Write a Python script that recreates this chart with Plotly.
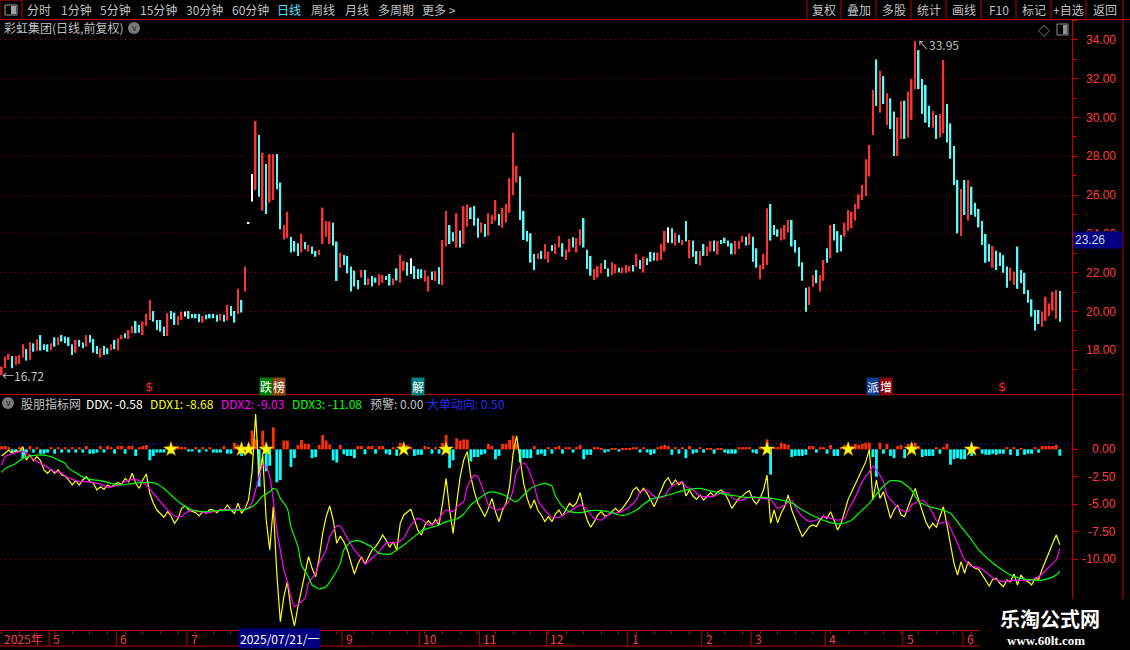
import plotly.graph_objects as go

# daily bars, index 0 = first visible day (2025-04)
HIGH = [
    17.16, 17.68, 17.81, 17.71, 17.71, 17.76, 18.31, 18.07, 18.42, 18.36,
    18.57, 18.79, 18.31, 18.31, 18.36, 18.67, 18.67, 18.79, 18.71, 18.67,
    18.31, 18.54, 18.54, 18.40, 18.79, 18.79, 18.59, 18.23, 18.11, 18.23,
    18.11, 18.31, 18.54, 18.62, 18.79, 18.88, 19.05, 19.26, 19.51, 19.31,
    19.48, 19.88, 20.60, 20.03, 19.57, 19.57, 19.22, 19.91, 20.03, 19.95,
    19.77, 20.00, 20.00, 20.03, 19.88, 19.88, 19.88, 19.77, 19.83, 19.88,
    19.88, 19.83, 19.88, 19.83, 20.34, 20.29, 20.03, 21.17, 20.60, 22.32,
    24.60, 27.09, 29.82, 29.10, 28.19, 27.61, 28.12, 28.12, 28.12, 26.65,
    24.46, 25.15, 23.86, 23.64, 23.52, 24.00, 23.59, 23.43, 23.35, 23.12,
    23.18, 25.36, 24.67, 24.64, 24.58, 23.61, 23.04, 22.92, 22.87, 22.32,
    22.11, 21.63, 22.14, 22.14, 21.72, 21.83, 21.75, 21.94, 21.89, 21.83,
    21.94, 21.72, 22.23, 22.92, 22.61, 22.54, 22.75, 22.35, 22.20, 22.18,
    22.14, 21.83, 22.06, 22.09, 22.28, 23.69, 25.19, 24.46, 24.09, 25.07,
    24.16, 25.44, 25.53, 25.37, 25.44, 24.81, 24.60, 24.52, 25.07, 24.98,
    25.75, 25.03, 25.36, 25.55, 26.87, 29.22, 27.51, 26.96, 25.19, 24.16,
    24.03, 22.97, 23.00, 23.12, 23.48, 23.09, 23.43, 23.48, 23.90, 23.52,
    23.18, 23.74, 23.83, 23.78, 24.26, 24.82, 23.18, 22.87, 22.20, 22.35,
    22.49, 22.66, 22.23, 22.54, 22.44, 22.26, 22.28, 22.40, 22.35, 22.40,
    22.97, 22.66, 22.83, 22.75, 23.07, 23.04, 23.04, 23.48, 24.16, 24.34,
    24.29, 24.07, 23.95, 23.69, 24.67, 23.69, 23.66, 23.12, 23.12, 23.48,
    23.35, 23.64, 23.66, 23.64, 23.69, 23.81, 23.66, 23.52, 23.64, 23.64,
    23.90, 23.86, 24.03, 23.86, 23.26, 22.40, 22.97, 25.32, 25.55, 24.46,
    24.24, 24.29, 24.46, 24.72, 24.72, 23.69, 23.31, 22.54, 21.23, 21.28,
    21.88, 22.14, 21.88, 22.66, 23.26, 24.46, 24.51, 24.15, 23.95, 24.58,
    25.24, 25.15, 25.55, 26.04, 26.53, 27.85, 28.59, 31.42, 33.00, 32.42,
    32.14, 31.25, 30.99, 30.31, 30.01, 30.86, 30.87, 31.34, 31.99, 33.95,
    33.48, 31.99, 31.68, 30.61, 30.34, 30.13, 30.18, 32.97, 30.70, 29.70,
    28.54, 26.78, 26.32, 26.78, 26.78, 26.44, 25.61, 25.29, 24.67, 24.00,
    23.48, 23.38, 23.14, 23.04, 22.91, 22.32, 22.26, 22.06, 23.35, 22.14,
    22.00, 21.11, 20.63, 20.08, 20.08, 20.00, 20.77, 20.42, 21.02, 21.11,
    21.06,
]
LOW = [
    16.72, 17.08, 17.51, 17.08, 17.25, 17.30, 17.63, 17.47, 17.51, 17.93,
    17.99, 17.99, 18.02, 17.93, 18.02, 18.19, 18.28, 18.45, 18.36, 18.23,
    17.76, 17.88, 18.19, 18.11, 18.19, 18.40, 17.88, 17.81, 17.63, 17.76,
    17.80, 17.99, 18.06, 17.99, 18.57, 18.62, 18.59, 18.88, 18.88, 18.91,
    18.79, 19.26, 19.57, 19.48, 19.05, 18.97, 18.74, 18.74, 19.60, 19.31,
    19.31, 19.57, 19.74, 19.62, 19.65, 19.65, 19.45, 19.43, 19.60, 19.65,
    19.65, 19.48, 19.53, 19.48, 19.53, 19.77, 19.43, 19.88, 19.95, 21.03,
    24.52, 25.67, 26.27, 25.92, 25.20, 25.03, 25.62, 25.75, 26.30, 24.24,
    23.72, 23.78, 23.04, 23.09, 22.87, 23.04, 23.21, 23.09, 22.97, 22.83,
    22.92, 23.48, 23.86, 23.48, 23.40, 21.58, 22.26, 22.40, 21.97, 21.03,
    21.29, 21.15, 21.75, 21.37, 21.37, 21.29, 21.49, 21.34, 21.49, 21.63,
    21.34, 21.37, 21.60, 21.49, 22.11, 21.85, 21.94, 21.68, 21.68, 21.72,
    21.54, 21.03, 21.63, 21.58, 21.42, 21.37, 23.35, 23.48, 23.61, 23.30,
    23.30, 23.48, 24.38, 24.77, 24.43, 23.81, 24.07, 23.86, 23.91, 24.52,
    24.69, 24.43, 24.33, 24.58, 25.10, 25.99, 26.65, 24.72, 23.69, 23.61,
    22.52, 22.14, 22.71, 22.71, 22.71, 22.52, 23.12, 22.97, 23.30, 22.83,
    22.66, 23.06, 23.30, 23.04, 23.40, 23.30, 22.20, 21.85, 21.63, 21.75,
    21.97, 22.20, 21.80, 21.89, 21.97, 22.01, 21.97, 21.97, 22.06, 22.06,
    22.31, 22.20, 22.01, 22.40, 22.57, 22.63, 22.61, 22.66, 23.09, 23.55,
    23.52, 23.40, 23.55, 23.43, 23.61, 22.75, 22.83, 22.45, 22.37, 22.87,
    22.87, 23.09, 23.09, 22.95, 23.48, 23.52, 23.35, 22.95, 22.95, 23.23,
    23.57, 23.40, 23.43, 22.57, 22.26, 21.66, 22.18, 22.40, 23.66, 23.95,
    23.86, 23.66, 23.72, 24.07, 23.35, 23.04, 22.32, 21.59, 19.99, 20.34,
    21.28, 21.46, 21.03, 21.59, 22.52, 22.75, 23.66, 23.04, 23.09, 23.86,
    24.17, 24.29, 24.69, 25.29, 25.75, 25.96, 26.96, 29.10, 30.60, 30.25,
    30.70, 29.62, 29.41, 28.02, 28.02, 28.90, 28.90, 28.97, 29.88, 31.46,
    31.47, 30.19, 29.74, 29.50, 29.48, 28.90, 28.97, 29.19, 28.71, 27.88,
    26.52, 24.03, 23.90, 24.98, 24.69, 24.98, 24.89, 24.34, 23.43, 22.52,
    22.57, 22.26, 22.14, 22.35, 22.00, 21.23, 21.59, 21.37, 21.17, 21.46,
    20.91, 20.46, 19.74, 19.02, 19.36, 19.22, 19.52, 19.77, 20.05, 19.62,
    19.48,
]
# r = up day, c = down day, w = flat
DIRS = ''.join([
    'rrrcrrrcrc', 'rcccrcrccc', 'crccrcccrc', 'crcrrcrrcc', 'rrrccccrcc',
    'rrwccccrcc', 'ccrcrccrcr', 'wwrcrcrrcc', 'rrcccrcrcc', 'rrrrccrccc',
    'ccrcrccrrc', 'crcrrcwccc', 'rrcrcrrccr', 'crrcccrcrr', 'rcrrrrrccc',
    'ccrcrrcrrc', 'rrcrrcccrr', 'rccrrcrrrc', 'rcrcccrrrw', 'crcrcrccrc',
    'rrcrccccrr', 'rcrccrrrcc', 'crrrcccccr', 'rcrrcrcccr', 'rrrrrrrrcr',
    'crccrrcrrr', 'ccccrcrrcc', 'ccrcrccccc', 'crccccrrcc', 'cccccrrrrr',
    'c',
])

DDX = [
    0.3, 0.3, 0.2, -0.3, -0.3, 0.2, -0.8, -0.3, 0.3, -0.3,
    0.2, -0.4, -0.4, -0.3, 0.2, -0.4, 0.2, -0.3, 0.2, -0.3,
    0.2, -0.3, 0.2, -0.3, 0.3, -0.4, -0.4, -0.3, 0.3, -0.3,
    0.3, 0.2, -0.4, 0.3, 0.3, -0.4, 0.3, 0.3, -0.6, 0.2,
    0.3, 0.4, -1.0, -0.6, -0.3, -0.3, -0.3, 0.3, -0.4, 0.3,
    0.3, 0.2, 0.2, -0.2, -0.2, 0.2, -0.3, 0.2, -0.2, 0.2,
    -0.3, -0.3, -0.3, 0.3, -0.4, -0.4, 0.6, 0.4, -0.6, 0.2,
    0.3, 1.7, 0.9, -3.4, 1.7, -2.0, -1.5, 2.0, -3.0, -2.8,
    0.8, 0.8, -1.6, -0.8, 0.4, 0.85, 0.5, 0.5, -0.8, -0.7,
    0.4, 1.3, 0.8, 0.45, -1.0, -1.2, 0.4, -0.45, -0.6, -0.6,
    -0.8, 0.3, 0.3, -0.45, 0.3, 0.3, -0.4, 0.3, 0.3, -0.4,
    -0.5, 0.2, -0.6, 0.6, 0.4, 0.4, 0.2, -0.6, -0.5, -0.5,
    0.3, 0.2, -0.4, 0.2, -0.4, 0.6, 1.3, -1.7, -1.0, 1.0,
    0.8, 0.9, 0.9, -1.1, -0.7, -0.7, -0.5, -0.4, 0.5, 0.3,
    -0.9, -0.6, 0.5, 0.5, 0.85, 1.25, 0.5, -1.2, -0.8, -0.8,
    -0.8, 0.3, -0.5, -0.4, -0.6, 0.2, -0.4, 0.2, 0.3, -0.4,
    0.2, 0.2, -0.3, 0.2, 0.4, -0.9, -0.5, -0.5, 0.2, 0.2,
    0.1, -0.3, -0.2, 0.1, 0.1, -0.2, 0.1, 0.1, 0.1, 0.2,
    0.2, -0.3, 0.2, -0.3, -0.5, -0.4, 0.2, 0.3, 0.4, 0.3,
    -0.5, 0.2, -0.4, 0.2, -0.8, 0.3, -0.4, -0.3, 0.2, -0.3,
    0.1, 0.1, -0.4, 0.1, 0.1, -0.3, -0.4, -0.4, -0.4, 0.2,
    0.2, 0.2, 0.2, -0.3, -0.4, 0.2, 0.2, 0.9, -2.3, 0.2,
    0.2, 0.6, 0.5, 0.4, -0.7, -0.6, -0.6, -0.6, -0.5, 0.3,
    0.3, -0.3, 0.2, 0.2, -0.4, 0.4, -0.6, -0.6, 0.2, 0.4,
    0.5, 0.3, 0.5, 0.4, 0.5, 0.6, 0.6, -0.7, -2.5, 0.6,
    -0.4, 0.5, -0.6, -0.8, 0.3, 0.4, -0.8, 0.5, 0.5, 0.6,
    0.3, -0.7, -0.6, -0.6, -0.6, 0.2, -0.4, 0.2, 0.5, -1.4,
    -0.9, -0.8, -0.9, -0.9, 0.2, -0.6, 0.3, 0.2, -0.4, -0.5,
    -0.5, -0.4, -0.5, -0.4, -0.4, 0.2, -0.5, 0.2, -0.6, 0.1,
    -0.5, -0.4, -0.4, 0.2, -0.3, 0.3, 0.3, 0.3, 0.3, 0.4,
    -0.58,
]
DDX1 = [
    -0.61, -0.30, -0.06, -0.37, -0.12, -0.21, 0.24, -0.97, -0.52, -1.03,
    -0.67, -1.03, -1.88, -2.18, -1.82, -2.18, -1.88, -2.34, -2.43, -2.79,
    -3.24, -2.85, -3.24, -2.79, -2.49, -2.94, -3.09, -3.70, -3.40, -3.64,
    -3.24, -3.40, -3.24, -3.03, -3.15, -2.64, -2.94, -2.18, -3.09, -3.55,
    -2.79, -2.24, -4.00, -4.91, -5.52, -5.82, -6.18, -5.67, -6.06, -6.73,
    -6.28, -5.37, -5.15, -5.52, -5.67, -5.76, -6.06, -5.67, -5.82, -5.46,
    -5.52, -5.76, -5.46, -5.52, -5.06, -5.52, -5.82, -4.91, -5.82, -5.37,
    -4.60, -2.03, 3.21, -2.64, -0.52, -6.43, -9.15, -5.21, -11.27, -15.67,
    -13.40, -12.03, -14.61, -16.06, -14.31, -12.79, -11.27, -9.76, -10.82, -11.58,
    -9.91, -7.64, -6.12, -5.15, -6.43, -8.55, -7.88, -8.40, -9.15, -10.21,
    -11.34, -10.43, -9.76, -10.43, -9.76, -9.15, -8.85, -8.40, -7.79, -8.25,
    -8.91, -8.40, -9.15, -6.73, -5.97, -5.67, -5.46, -6.43, -7.34, -7.79,
    -6.88, -6.49, -6.88, -6.37, -6.88, -4.91, -2.64, -5.52, -7.64, -4.91,
    -2.49, -0.97, -0.21, -2.49, -3.85, -4.91, -5.52, -6.12, -5.37, -4.46,
    -5.67, -6.58, -5.52, -4.91, -3.40, -0.37, 1.21, -0.97, -3.09, -4.46,
    -5.37, -4.61, -5.52, -5.97, -6.58, -6.12, -6.58, -5.88, -5.52, -6.06,
    -5.52, -4.91, -5.21, -4.85, -3.94, -5.37, -6.43, -7.09, -6.58, -5.97,
    -5.67, -6.06, -5.97, -5.67, -5.37, -5.67, -5.37, -4.91, -4.46, -3.70,
    -3.46, -3.94, -3.55, -4.00, -4.61, -5.21, -4.46, -3.70, -2.94, -2.58,
    -3.24, -2.79, -3.24, -2.94, -4.25, -3.70, -4.25, -4.55, -4.15, -4.61,
    -4.25, -3.94, -4.25, -3.85, -3.70, -4.00, -4.61, -5.37, -4.91, -4.46,
    -4.25, -3.94, -3.76, -4.61, -4.97, -4.46, -3.70, -2.34, -6.73, -5.52,
    -6.67, -5.82, -5.21, -4.15, -5.52, -6.43, -7.18, -7.94, -7.49, -7.03,
    -6.88, -7.03, -6.43, -6.06, -6.28, -5.67, -6.43, -7.34, -6.73, -5.52,
    -4.55, -3.85, -3.15, -2.49, -1.73, -1.12, 0.00, -4.61, -2.79, -4.46,
    -3.85, -5.21, -6.28, -5.52, -5.06, -5.97, -6.12, -5.21, -4.31, -3.55,
    -4.61, -5.67, -6.58, -7.18, -6.73, -7.09, -6.12, -5.21, -6.88, -8.70,
    -10.37, -11.43, -10.21, -11.27, -10.21, -10.61, -10.82, -10.91, -11.43, -11.88,
    -12.43, -11.82, -11.73, -12.18, -12.49, -11.88, -12.03, -11.34, -12.34, -11.43,
    -11.88, -12.03, -12.34, -11.73, -11.82, -10.91, -10.06, -9.30, -8.55, -7.79,
    -8.68,
]
# smoother lines, read at (day index, value)
DDX2_PTS = [
    (0, -1.43), (1, -0.67), (4, -0.28), (6, -0.21), (7, -0.37), (9, -0.91), (11, -1.28),
    (13, -1.64), (15, -2.03), (17, -2.12), (18, -2.43), (20, -2.73), (22, -2.94), (24, -2.94),
    (26, -3.03), (28, -3.15), (30, -3.46), (32, -3.34), (34, -3.15), (35, -2.94), (37, -2.73),
    (39, -2.85), (41, -3.24), (43, -4.00), (45, -4.76), (47, -5.52), (49, -6.06), (51, -6.12),
    (52, -5.82), (54, -5.52), (56, -5.67), (58, -5.76), (60, -5.67), (62, -5.52), (64, -5.46),
    (66, -5.46), (68, -5.46), (70, -5.31), (71, -4.76), (72, -3.70), (73, -2.49), (74, -1.43),
    (75, -1.58), (76, -2.49), (77, -4.60), (78, -7.34), (79, -9.15), (80, -10.97), (81, -12.03),
    (82, -13.40), (83, -14.31), (85, -13.85), (86, -13.55), (87, -12.18), (89, -11.28),
    (90, -10.37), (92, -9.15), (93, -7.94), (95, -6.97), (96, -6.97), (98, -8.09), (100, -9.15),
    (102, -9.91), (103, -10.43), (105, -9.91), (107, -9.30), (109, -8.55), (111, -8.49),
    (112, -8.49), (114, -8.09), (116, -6.88), (118, -6.28), (120, -6.58), (121, -6.88),
    (123, -6.73), (125, -5.82), (126, -5.52), (128, -5.67), (129, -5.21), (131, -4.76),
    (132, -3.40), (134, -2.34), (135, -2.49), (137, -4.15), (138, -5.06), (140, -5.52),
    (142, -5.37), (144, -4.61), (145, -3.70), (146, -2.03), (148, -1.22), (149, -1.58),
    (151, -3.24), (152, -4.61), (154, -5.52), (156, -6.18), (158, -6.18), (160, -5.82),
    (162, -5.46), (164, -5.06), (166, -5.52), (168, -6.28), (170, -6.43), (171, -6.18),
    (173, -5.82), (175, -5.76), (178, -5.21), (180, -4.55), (181, -3.85), (183, -3.70),
    (184, -4.00), (186, -4.46), (188, -4.25), (189, -3.70), (191, -3.15), (193, -2.94),
    (194, -3.40), (196, -3.70), (198, -4.25), (200, -4.31), (202, -4.25), (204, -3.94),
    (206, -4.00), (207, -4.37), (209, -4.67), (211, -4.46), (213, -4.31), (215, -4.46),
    (218, -4.55), (220, -5.37), (222, -5.06), (224, -4.61), (225, -5.21), (227, -6.12),
    (229, -6.58), (231, -6.43), (233, -6.12), (235, -6.28), (237, -6.43), (239, -6.28),
    (240, -5.52), (242, -4.37), (244, -2.94), (246, -2.03), (247, -1.52), (248, -1.88),
    (250, -2.94), (251, -4.15), (253, -4.91), (255, -5.52), (257, -5.67), (258, -5.06),
    (261, -4.61), (263, -5.21), (265, -6.43), (266, -6.73), (268, -6.58), (269, -7.18),
    (271, -8.55), (273, -10.06), (275, -10.67), (276, -10.67), (278, -10.91), (280, -11.43),
    (282, -11.88), (284, -12.03), (286, -11.94), (288, -11.88), (290, -11.94), (292, -11.88),
    (293, -11.73), (295, -11.34), (297, -10.67), (299, -10.06), (300, -9.03),
]
DDX3_PTS = [
    (0, -2.12), (1, -1.73), (4, -1.28), (6, -0.82), (8, -0.61), (10, -0.52), (12, -0.52),
    (14, -0.67), (16, -0.97), (18, -1.28), (19, -1.73), (21, -2.12), (23, -2.49), (25, -2.73),
    (28, -2.85), (31, -3.09), (34, -3.24), (36, -3.15), (39, -3.03), (43, -3.03), (45, -3.34),
    (47, -3.85), (49, -4.46), (51, -4.97), (53, -5.37), (54, -5.52), (57, -5.67), (61, -5.58),
    (65, -5.52), (68, -5.52), (70, -5.37), (72, -4.97), (74, -4.25), (76, -3.85), (77, -3.55),
    (78, -3.70), (79, -4.46), (81, -5.37), (82, -7.03), (84, -8.85), (85, -10.52), (87, -11.58),
    (88, -12.34), (90, -12.70), (92, -12.49), (94, -11.58), (96, -10.37), (97, -9.15),
    (99, -8.40), (101, -8.31), (103, -8.55), (105, -8.91), (107, -9.46), (110, -9.55),
    (112, -9.15), (114, -8.70), (117, -7.94), (119, -7.40), (121, -7.18), (124, -6.88),
    (126, -6.58), (129, -6.34), (131, -5.88), (133, -5.06), (136, -4.31), (138, -3.91),
    (140, -3.91), (143, -4.25), (145, -4.67), (146, -4.76), (148, -4.15), (150, -3.55),
    (152, -3.24), (154, -3.09), (156, -3.34), (157, -4.25), (159, -5.21), (161, -5.67),
    (164, -5.76), (167, -5.58), (170, -5.58), (173, -5.76), (175, -5.97), (177, -5.97),
    (180, -5.52), (182, -5.00), (184, -4.55), (187, -4.31), (190, -4.06), (192, -3.85),
    (195, -3.64), (198, -3.55), (200, -3.70), (203, -3.94), (206, -4.15), (208, -4.22),
    (211, -4.37), (216, -4.37), (220, -4.55), (224, -4.85), (227, -5.52), (231, -6.18),
    (235, -6.67), (238, -6.79), (241, -6.43), (243, -5.82), (246, -4.91), (249, -3.70),
    (252, -2.85), (255, -2.94), (258, -3.70), (260, -4.76), (263, -5.21), (266, -5.46),
    (269, -5.82), (272, -7.03), (275, -8.24), (277, -9.15), (280, -10.06), (283, -10.82),
    (286, -11.43), (289, -11.73), (292, -11.88), (294, -11.94), (297, -11.73), (299, -11.43),
    (300, -11.08),
]
STAR_IDX = [48, 68, 70, 75, 114, 126, 217, 240, 258, 275]
WARN = 0.00
BIG_ORDER = 0.50

PRICE_TICKS = [18, 20, 22, 24, 26, 28, 30, 32, 34]
DDX_TICKS = [0, -2.5, -5, -7.5, -10]
DDX_GRID = [0, -5, -10]
MONTH_IDX = [14, 33, 53, 97, 119, 136, 155, 178, 199, 213, 234, 256, 273]
MONTH_TXT = ['5', '6', '7', '9', '10', '11', '12', '1', '2', '3', '4', '5', '6']
CURSOR_IDX = 67
CURSOR_DATE = '2025/07/21/一'
CURSOR_PRICE = 23.26

assert len(HIGH) == len(LOW) == len(DIRS) == len(DDX) == len(DDX1)
N = len(HIGH)

RED = '#ff3232'
CYAN = '#54fcfc'
AXIS_RED = '#c00000'
GRID_RED = '#a00000'
LABEL_RED = '#ff3c3c'
GREY = '#c0c0c0'
FONT = 'Noto Sans CJK SC'
NUM_FONT = 'Liberation Sans'

PLOT_W, PLOT_H, TOP = 1072, 610, 20


def px(x):
    return x / PLOT_W


def py(y):
    return (TOP + PLOT_H - y) / PLOT_H


fig = go.Figure()

# candles, drawn as thin high-low bars
for key, col in [('r', RED), ('c', CYAN), ('w', '#ffffff')]:
    idx = [i for i, d in enumerate(DIRS) if d == key]
    fig.add_trace(go.Bar(x=idx, base=[LOW[i] for i in idx], y=[HIGH[i] - LOW[i] for i in idx],
                         width=0.45, marker=dict(color=col, line_width=0), yaxis='y'))

# DDX histogram
fig.add_trace(go.Bar(x=list(range(N)), y=DDX, width=0.8, yaxis='y2',
                     marker=dict(color=['#ff3000' if v >= 0 else '#00ffff' for v in DDX], line_width=0)))

fig.add_trace(go.Scatter(x=list(range(N)), y=DDX1, mode='lines', yaxis='y2',
                         line=dict(color='#ffff00', width=1.2)))
x2, y2 = zip(*DDX2_PTS)
fig.add_trace(go.Scatter(x=list(x2), y=list(y2), mode='lines', yaxis='y2',
                         line=dict(color='#ff00ff', width=1.2, shape='spline', smoothing=0.5)))
x3, y3 = zip(*DDX3_PTS)
fig.add_trace(go.Scatter(x=list(x3), y=list(y3), mode='lines', yaxis='y2',
                         line=dict(color='#00ff00', width=1.2, shape='spline', smoothing=0.5)))
fig.add_trace(go.Scatter(x=STAR_IDX, y=[0] * len(STAR_IDX), mode='markers', yaxis='y2',
                         marker=dict(symbol='star', size=11, color='#ffff00',
                                     line=dict(color='#d0a000', width=0.5))))

shapes = []
# dotted grid of the indicator panel + 大单动向 level
for v in DDX_GRID:
    shapes.append(dict(type='line', xref='paper', yref='y2', x0=0, x1=1, y0=v, y1=v, layer='below',
                       line=dict(color=GRID_RED, width=1, dash='1px,4px')))
shapes.append(dict(type='line', xref='paper', yref='y2', x0=0, x1=1, y0=BIG_ORDER, y1=BIG_ORDER,
                   layer='below', line=dict(color='#2020ff', width=1, dash='1px,3px')))

# frame lines
shapes += [
    dict(type='line', xref='paper', yref='paper', x0=0, x1=px(1130), y0=py(19.5), y1=py(19.5),
         line=dict(color=AXIS_RED, width=1)),
    dict(type='line', xref='paper', yref='paper', x0=0, x1=px(1123), y0=py(394.5), y1=py(394.5),
         line=dict(color=AXIS_RED, width=1)),
    dict(type='line', xref='paper', yref='paper', x0=0, x1=px(1130), y0=py(646), y1=py(646),
         line=dict(color=AXIS_RED, width=1)),
    dict(type='line', xref='paper', yref='paper', x0=px(1123), x1=px(1123), y0=py(20), y1=py(600),
         line=dict(color=AXIS_RED, width=1)),
    dict(type='rect', xref='paper', yref='paper', x0=0, x1=px(22), y0=py(19.5), y1=py(0),
         line=dict(color=AXIS_RED, width=1)),
    dict(type='rect', xref='paper', yref='paper', x0=px(5), x1=px(17), y0=py(15), y1=py(5),
         line=dict(color='#a0a0a0', width=1)),
    dict(type='rect', xref='paper', yref='paper', x0=px(11), x1=px(16), y0=py(14), y1=py(6),
         fillcolor='#a0a0a0', line=dict(width=0)),
    dict(type='rect', xref='paper', yref='paper', x0=px(1057), x1=px(1068), y0=py(35), y1=py(24),
         line=dict(color='#909090', width=1)),
    dict(type='rect', xref='paper', yref='paper', x0=px(1063), x1=px(1067), y0=py(34), y1=py(25),
         fillcolor='#909090', line=dict(width=0)),
    dict(type='circle', xref='paper', yref='paper', x0=px(128), x1=px(140), y0=py(34), y1=py(22),
         fillcolor='#7a7a7a', line=dict(width=0)),
    dict(type='circle', xref='paper', yref='paper', x0=px(2), x1=px(14), y0=py(409), y1=py(397),
         fillcolor='#7a7a7a', line=dict(width=0)),
]
# toolbar button separators
SEP = [807, 841, 876, 911, 946, 981, 1016, 1051, 1086, 1123]
for s in SEP:
    shapes.append(dict(type='line', xref='paper', yref='paper', x0=px(s), x1=px(s), y0=py(0), y1=py(19.5),
                       line=dict(color=AXIS_RED, width=1)))
# month separators in the date strip
for m in MONTH_IDX:
    shapes.append(dict(type='line', xref='x', yref='paper', x0=m - 0.5, x1=m - 0.5, y0=py(630), y1=py(646),
                       line=dict(color=AXIS_RED, width=1)))
# watermark backdrop
shapes.append(dict(type='rect', xref='paper', yref='paper', x0=px(980), x1=px(1130), y0=py(650), y1=py(599),
                   fillcolor='#000000', line=dict(width=0), layer='above'))

ann = []


def text(x, y, s, color=GREY, size=12, anchor='left', family=FONT, **kw):
    ann.append(dict(x=x, y=y, xref=kw.pop('xref', 'paper'), yref=kw.pop('yref', 'paper'), text=s,
                    showarrow=False, xanchor=anchor, yanchor=kw.pop('yanchor', 'middle'),
                    font=dict(family=family, size=size, color=color), **kw))


# top toolbar
for s, c in [('分时', 39), ('1分钟', 76), ('5分钟', 115), ('15分钟', 158), ('30分钟', 204),
             ('60分钟', 250), ('日线', 289), ('周线', 323), ('月线', 357), ('多周期', 396), ('更多 >', 439)]:
    text(px(c), py(10), s, color='#4fe0ff' if s == '日线' else GREY, anchor='center')
for s, a, b in zip(['复权', '叠加', '多股', '统计', '画线', 'F10', '标记', '+自选', '返回'], SEP[:-1], SEP[1:]):
    text(px((a + b) / 2), py(10), s, anchor='center')

text(px(2), py(28), '彩虹集团(日线,前复权)')
text(px(134), py(27.5), 'v', color='#202020', size=9, anchor='center')
text(px(1044), py(30), '◇', color='#a0a0a0', size=12, anchor='center')

# price axis labels, right aligned
for v in PRICE_TICKS:
    text(px(1118), v, f'{v:.2f}', color=LABEL_RED, anchor='right', family=NUM_FONT, yref='y')
for v in DDX_TICKS:
    text(px(1118), v, f'{v:.2f}', color=LABEL_RED, anchor='right', family=NUM_FONT, yref='y2')
ann.append(dict(x=px(1073), y=py(240), xref='paper', yref='paper', text=f'{CURSOR_PRICE:.2f}',
                showarrow=False, xanchor='left', yanchor='middle', bgcolor='#000080', width=46,
                align='left', font=dict(family=NUM_FONT, size=12, color='#dcdcdc')))

# high / low marks
hi = HIGH.index(max(HIGH))
lo = LOW.index(min(LOW))
text(hi, HIGH[hi], f'↖{HIGH[hi]:.2f}', xref='x', yref='y', yshift=-4)
text(lo, LOW[lo], f'←{LOW[lo]:.2f}', xref='x', yref='y', xshift=-2)

# event markers under the candles
for i, s, bg, shift in [(40, '$', None, 0), (73, '跌', '#008000', 0), (73, '榜', '#8b4a10', 13),
                        (116, '解', '#008080', 0), (245, '派', '#103a8a', 0), (245, '增', '#8b0000', 13),
                        (282, '$', None, 0)]:
    if bg:
        text(i, py(386), s, color='#ffffff', xref='x', bgcolor=bg, xshift=shift, borderpad=0)
    else:
        text(i, py(386), s, color='#ff2020', size=13, xref='x', family='DejaVu Sans')

# indicator title row
text(px(19), py(403), '股朋指标网')
text(px(84), py(403), f'DDX: {DDX[-1]:.2f}', color='#ffffff')
text(px(148), py(403), f'DDX1: {DDX1[-1]:.2f}', color='#ffff00')
text(px(219), py(403), f'DDX2: {y2[-1]:.2f}', color='#ff00ff')
text(px(290), py(403), f'DDX3: {y3[-1]:.2f}', color='#00ff00')
text(px(368), py(403), f'预警: {WARN:.2f}')
text(px(425), py(403), f'大单动向: {BIG_ORDER:.2f}', color='#2828ff')
text(px(8), py(402.5), 'v', color='#202020', size=9, anchor='center')

# date strip
text(0, py(638), '2025年', color=LABEL_RED, xref='x')
for m, s in zip(MONTH_IDX, MONTH_TXT):
    text(m, py(638), s, color=LABEL_RED, xref='x')
text(CURSOR_IDX, py(638), CURSOR_DATE, color='#ffffff', xref='x', bgcolor='#000080', borderpad=1)

# watermark
text(px(1050), py(618), '<b>乐淘公式网</b>', color='#ffffff', size=20, anchor='center')
text(px(1046), py(640), '<b>www.60lt.com</b>', color='#ffffff', size=13, anchor='center',
     family='Liberation Serif')

fig.update_layout(
    width=1130, height=650, margin=dict(l=0, r=58, t=20, b=20),
    paper_bgcolor='#000000', plot_bgcolor='#000000', showlegend=False,
    barmode='overlay', hovermode=False, font=dict(family=FONT),
    xaxis=dict(domain=[0, 1], range=[-0.48, 303.46], anchor='y2', showgrid=False, zeroline=False,
               showticklabels=False, ticks='outside', ticklen=3, tickcolor=AXIS_RED, tick0=0, dtick=5,
               showline=True, linecolor=AXIS_RED),
    yaxis=dict(domain=[py(394), 1], range=[15.75, 35.03], side='right', anchor='x',
               showline=True, linecolor=AXIS_RED, zeroline=False, showticklabels=False,
               tickmode='array', tickvals=PRICE_TICKS, ticks='outside', ticklen=5, tickcolor=AXIS_RED,
               showgrid=True, gridcolor=GRID_RED, griddash='1px,4px', gridwidth=1,
               minor=dict(tickmode='linear', tick0=0, dtick=1, ticks='outside', ticklen=4,
                          tickcolor=AXIS_RED, showgrid=False)),
    yaxis2=dict(domain=[0, py(395)], range=[-16.43, 4.94], side='right', anchor='x',
                showline=True, linecolor=AXIS_RED, zeroline=False, showticklabels=False, showgrid=False,
                tickmode='array', tickvals=DDX_TICKS, ticks='outside', ticklen=5, tickcolor=AXIS_RED),
    shapes=shapes,
    annotations=ann,
)

# the page's default body margin would shift the 1130x650 figure, so drop it
fig.write_html('out.html', config={'displayModeBar': False},
               post_script="document.body.style.margin='0';")
